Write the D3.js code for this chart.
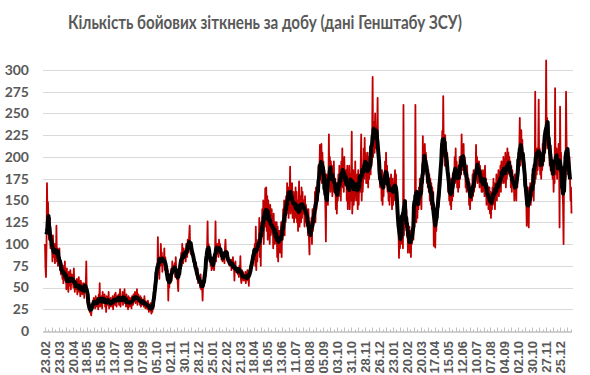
<!DOCTYPE html>
<html>
<head>
<meta charset="utf-8">
<script src="https://cdn.jsdelivr.net/npm/d3@7"></script>
<style>
  body { margin: 0; background: #fff; }
</style>
</head>
<body>
<div id="wrapper"></div>
<script>
// daily combat clashes from 23.02.2023 (roughly a week per row)
const startDate = Date.UTC(2023, 1, 23);
const clashes = [
  100, 72, 62, 95, 170, 130, 148,
  125, 105, 118, 130, 95, 112, 100,
  98, 80, 110, 92, 85, 100, 78,
  90, 85, 121, 80, 95, 75, 92,
  85, 95, 70, 80, 65, 78, 72,
  60, 75, 55, 70, 62, 80, 58,
  65, 48, 72, 55, 60, 45, 68,
  52, 62, 70, 48, 58, 65, 55,
  62, 50, 72, 55, 45, 58, 52,
  48, 60, 42, 55, 50, 62, 45,
  52, 40, 58, 45, 55, 42, 50,
  44, 55, 38, 50, 46, 52, 80,
  45, 40, 30, 38, 25, 32, 22,
  26, 20, 18, 28, 25, 35, 30, 38,
  30, 36, 26, 40, 28, 34, 32,
  38, 25, 42, 30, 55, 28, 35,
  30, 40, 26, 45, 32, 38, 36,
  42, 28, 36, 22, 40, 35, 38,
  30, 45, 26, 34, 28, 38, 30,
  36, 28, 40, 25, 38, 32, 42,
  30, 44, 32, 28, 40, 35, 38,
  42, 30, 36, 48, 28, 35, 38,
  34, 45, 30, 40, 36, 48, 32,
  38, 28, 42, 30, 36, 25, 40,
  32, 28, 38, 30, 35, 26, 40,
  36, 30, 42, 34, 38, 45, 32,
  40, 35, 48, 30, 38, 42, 34,
  36, 30, 40, 28, 38, 34, 32,
  30, 36, 28, 40, 32, 26, 34,
  28, 32, 25, 35, 30, 22, 30,
  26, 32, 24, 20, 28, 22, 30,
  28, 35, 42, 55, 48, 62, 58,
  70, 65, 108, 72, 80, 60, 85,
  75, 100, 82, 90, 68, 78, 85,
  80, 95, 70, 85, 75, 68, 72,
  62, 70, 35, 58, 50, 65, 55,
  60, 72, 58, 80, 66, 75, 70,
  72, 78, 62, 85, 70, 60, 68, 55,
  46, 70, 62, 75, 80, 72, 90,
  75, 100, 82, 78, 95, 85, 90,
  88, 80, 100, 92, 85, 105, 95,
  90, 110, 121, 95, 100, 88, 98,
  95, 85, 90, 80, 82, 75, 78,
  70, 78, 65, 60, 72, 55, 60,
  58, 62, 50, 65, 48, 58, 52,
  35, 55, 60, 52, 65, 70, 62,
  75, 85, 95, 126, 90, 100, 88,
  80, 92, 75, 85, 70, 82, 78,
  72, 80, 70, 78, 88, 126, 80,
  95, 88, 100, 92, 85, 105, 96,
  100, 90, 95, 82, 88, 80, 85,
  82, 90, 78, 95, 105, 88, 92,
  85, 80, 90, 78, 82, 75, 80,
  76, 82, 70, 80, 74, 85, 72,
  78, 58, 75, 80, 70, 72, 68,
  72, 65, 70, 62, 75, 68, 86,
  60, 55, 70, 62, 68, 58, 65,
  62, 58, 68, 55, 65, 60, 70,
  58, 66, 52, 70, 62, 75, 68,
  72, 80, 75, 90, 82, 95, 88,
  100, 75, 120, 70, 105, 80, 100,
  100, 95, 130, 85, 120, 75, 125, 110,
  140, 110, 150, 100, 135, 120, 164,
  120, 165, 115, 155, 105, 150, 140,
  135, 100, 145, 110, 115, 140, 115,
  130, 95, 135, 100, 120, 125, 105,
  100, 125, 85, 120, 80, 115, 110,
  115, 90, 100, 125, 85, 120, 105,
  140, 115, 150, 110, 145, 125, 155,
  135, 170, 140, 165, 130, 165, 155,
  189, 135, 165, 140, 170, 130, 155,
  160, 125, 150, 135, 165, 130, 160,
  125, 150, 115, 140, 172, 120, 135,
  155, 125, 165, 130, 160, 135, 150,
  150, 120, 155, 125, 145, 130, 140,
  135, 110, 140, 105, 88, 125, 115,
  110, 130, 100, 140, 115, 125, 135,
  130, 160, 125, 165, 140, 155, 150,
  150, 190, 160, 185, 214, 175, 195,
  215, 170, 205, 180, 195, 165, 185,
  175, 140, 103, 180, 150, 170, 145,
  165, 226, 170, 200, 160, 195, 175,
  190, 155, 185, 160, 195, 165, 175,
  175, 140, 170, 135, 165, 150, 180,
  155, 190, 160, 185, 150, 195, 170,
  210, 165, 195, 160, 200, 175, 170,
  170, 185, 150, 190, 140, 180, 155, 190,
  140, 180, 150, 175, 229, 135, 155,
  185, 145, 175, 150, 195, 160, 170,
  150, 180, 140, 185, 145, 175, 165,
  160, 190, 226, 150, 185, 160, 175,
  210, 175, 222, 180, 205, 170, 200,
  170, 205, 165, 200, 175, 195, 190,
  180, 210, 190, 225, 292, 200, 215,
  240, 205, 250, 210, 235, 215, 230,
  268, 200, 190, 175, 180, 165, 185,
  180, 150, 185, 145, 175, 155, 180,
  165, 195, 170, 205, 175, 190, 160,
  180, 150, 175, 145, 170, 155, 180,
  170, 140, 175, 145, 165, 150, 175,
  185, 165, 180, 150, 160, 135, 140,
  120, 84, 115, 95, 130, 100, 110,
  105, 125, 95, 260, 110, 140, 120,
  150, 125, 140, 110, 130, 90, 120,
  95, 120, 90, 115, 85, 110, 100,
  110, 130, 105, 140, 120, 135, 260,
  150, 125, 160, 130, 155, 140, 165,
  145, 175, 150, 170, 140, 165, 160,
  224, 180, 210, 185, 215, 190, 205,
  195, 170, 190, 165, 185, 160, 180,
  150, 175, 145, 170, 140, 165, 150, 160,
  98, 145, 120, 96, 140, 115, 135,
  130, 160, 140, 170, 150, 175, 165,
  185, 215, 195, 230, 200, 270, 215,
  215, 190, 225, 195, 210, 185, 205,
  190, 160, 180, 150, 175, 145, 165,
  140, 175, 150, 180, 155, 185, 170,
  200, 170, 210, 175, 195, 165, 180,
  160, 190, 165, 200, 175, 195, 180,
  226, 185, 210, 190, 215, 180, 200,
  195, 165, 185, 160, 190, 170, 175,
  175, 145, 170, 140, 165, 150, 160,
  150, 180, 155, 185, 160, 175, 165,
  175, 214, 180, 200, 170, 195, 185,
  195, 165, 190, 170, 185, 160, 175,
  160, 185, 165, 180, 155, 190, 170,
  175, 145, 170, 150, 165, 140, 160,
  165, 135, 160, 130, 155, 140, 165,
  145, 175, 150, 170, 140, 165, 160,
  180, 150, 175, 160, 185, 155, 170,
  165, 190, 160, 195, 170, 185, 175,
  200, 170, 195, 175, 205, 165, 185,
  175, 210, 180, 205, 185, 200, 180,
  195, 165, 190, 160, 185, 170, 175,
  170, 150, 180, 155, 175, 150, 185, 165,
  180, 205, 185, 210, 245, 190, 200,
  231, 200, 220, 190, 205, 185, 195,
  185, 160, 175, 150, 121, 165, 150,
  140, 119, 165, 150, 170, 145, 165,
  155, 180, 160, 185, 150, 180, 170,
  275, 175, 200, 180, 210, 185, 205,
  266, 190, 210, 180, 200, 175, 195,
  185, 215, 190, 220, 195, 225, 205,
  215, 311, 220, 245, 210, 240, 230,
  225, 190, 215, 185, 205, 180, 195,
  175, 195, 160, 190, 170, 279, 180,
  180, 210, 175, 205, 185, 215, 200,
  119, 258, 190, 205, 170, 185, 160,
  145, 100, 180, 165, 200, 175, 275,
  220, 185, 210, 180, 205, 190, 200,
  175, 150, 165, 135
];
const yTickValues = d3.range(0, 301, 25);
const labelStep = 28; // days between date labels
const minorStep = 7;
const chartTitle = "Кількість бойових зіткнень за добу (дані Генштабу ЗСУ)";

function drawChart() {
  const dateAccessor = (d) => d.date;
  const valueAccessor = (d) => d.value;

  const dataset = clashes.map((v, i) => ({
    date: d3.utcDay.offset(new Date(startDate), i),
    value: v,
  }));

  // centred 7-day moving average (black line)
  const avg = dataset
    .map((d, i) => {
      if (i < 3 || i > dataset.length - 4) return null;
      return { date: d.date, value: d3.mean(dataset.slice(i - 3, i + 4), valueAccessor) };
    })
    .filter((d) => d);

  let dimensions = {
    width: 590,
    height: 375,
    margin: { top: 70, right: 18.5, bottom: 44, left: 45 },
  };
  dimensions.boundedWidth = dimensions.width - dimensions.margin.left - dimensions.margin.right;
  dimensions.boundedHeight = dimensions.height - dimensions.margin.top - dimensions.margin.bottom;

  const wrapper = d3
    .select("#wrapper")
    .append("svg")
    .attr("width", dimensions.width)
    .attr("height", dimensions.height)
    .style("font-family", "Lato, 'Open Sans', sans-serif");

  wrapper
    .append("text")
    .attr("x", 265)
    .attr("y", 29)
    .attr("text-anchor", "middle")
    .attr("fill", "#595959")
    .attr("font-weight", "bold")
    .attr("font-size", 18)
    .attr("textLength", 394)
    .attr("lengthAdjust", "spacingAndGlyphs")
    .text(chartTitle);

  const bounds = wrapper
    .append("g")
    .attr("transform", `translate(${dimensions.margin.left},${dimensions.margin.top})`);

  const xScale = d3
    .scaleUtc()
    .domain(d3.extent(dataset, dateAccessor))
    .range([0, dimensions.boundedWidth]);

  const yScale = d3
    .scaleLinear()
    .domain([0, 300])
    .range([dimensions.boundedHeight, 0]);

  // gridlines
  bounds
    .append("g")
    .selectAll("line")
    .data(yTickValues.filter((d) => d > 0))
    .join("line")
    .attr("x1", -2)
    .attr("x2", dimensions.boundedWidth + 1.5)
    .attr("y1", (d) => Math.round(yScale(d)) + 0.5)
    .attr("y2", (d) => Math.round(yScale(d)) + 0.5)
    .attr("stroke", "#d9d9d9")
    .attr("stroke-width", 1);

  // y labels
  bounds
    .append("g")
    .selectAll("text")
    .data(yTickValues)
    .join("text")
    .attr("x", -16)
    .attr("y", (d) => yScale(d))
    .attr("dy", "0.35em")
    .attr("text-anchor", "end")
    .attr("fill", "#595959")
    .attr("font-weight", "bold")
    .attr("font-size", 14)
    .text((d) => d);

  // x axis
  const labelDates = d3.range(0, clashes.length, labelStep).map((i) => dataset[i].date);
  const tickIdx = d3.range(0, clashes.length, minorStep);

  const xAxis = bounds
    .append("g")
    .attr("transform", `translate(0,${dimensions.boundedHeight})`);

  xAxis
    .append("line")
    .attr("x1", -2)
    .attr("x2", dimensions.boundedWidth + 0.5)
    .attr("y1", 1)
    .attr("y2", 1)
    .attr("stroke", "#bfbfbf")
    .attr("stroke-width", 1.5);

  xAxis
    .selectAll(".tick")
    .data(tickIdx)
    .join("line")
    .attr("class", "tick")
    .attr("x1", (i) => Math.round(xScale(dataset[i].date)) + 0.5)
    .attr("x2", (i) => Math.round(xScale(dataset[i].date)) + 0.5)
    .attr("y1", 1)
    .attr("y2", (i) => (i % 14 === 0 ? -3.5 : -1.5))
    .attr("stroke", "#bfbfbf");

  const formatDate = d3.utcFormat("%d.%m");
  xAxis
    .selectAll(".label")
    .data(labelDates)
    .join("text")
    .attr("class", "label")
    .attr("transform", (d) => `translate(${xScale(d)},10) rotate(-90)`)
    .attr("dy", "0.36em")
    .attr("text-anchor", "end")
    .attr("fill", "#595959")
    .attr("font-family", "'Liberation Sans', Arial, sans-serif")
    .attr("font-weight", "bold")
    .attr("font-size", 13)
    .text(formatDate);

  // lines
  const lineGenerator = d3
    .line()
    .x((d) => xScale(dateAccessor(d)))
    .y((d) => yScale(valueAccessor(d)));

  bounds
    .append("path")
    .attr("d", lineGenerator(dataset))
    .attr("fill", "none")
    .attr("stroke", "#c00000")
    .attr("stroke-width", 1.8)
    .attr("stroke-linejoin", "round");

  bounds
    .append("path")
    .attr("d", lineGenerator(avg))
    .attr("fill", "none")
    .attr("stroke", "#000")
    .attr("stroke-width", 4)
    .attr("stroke-linejoin", "round");
}

drawChart();
</script>
</body>
</html>
